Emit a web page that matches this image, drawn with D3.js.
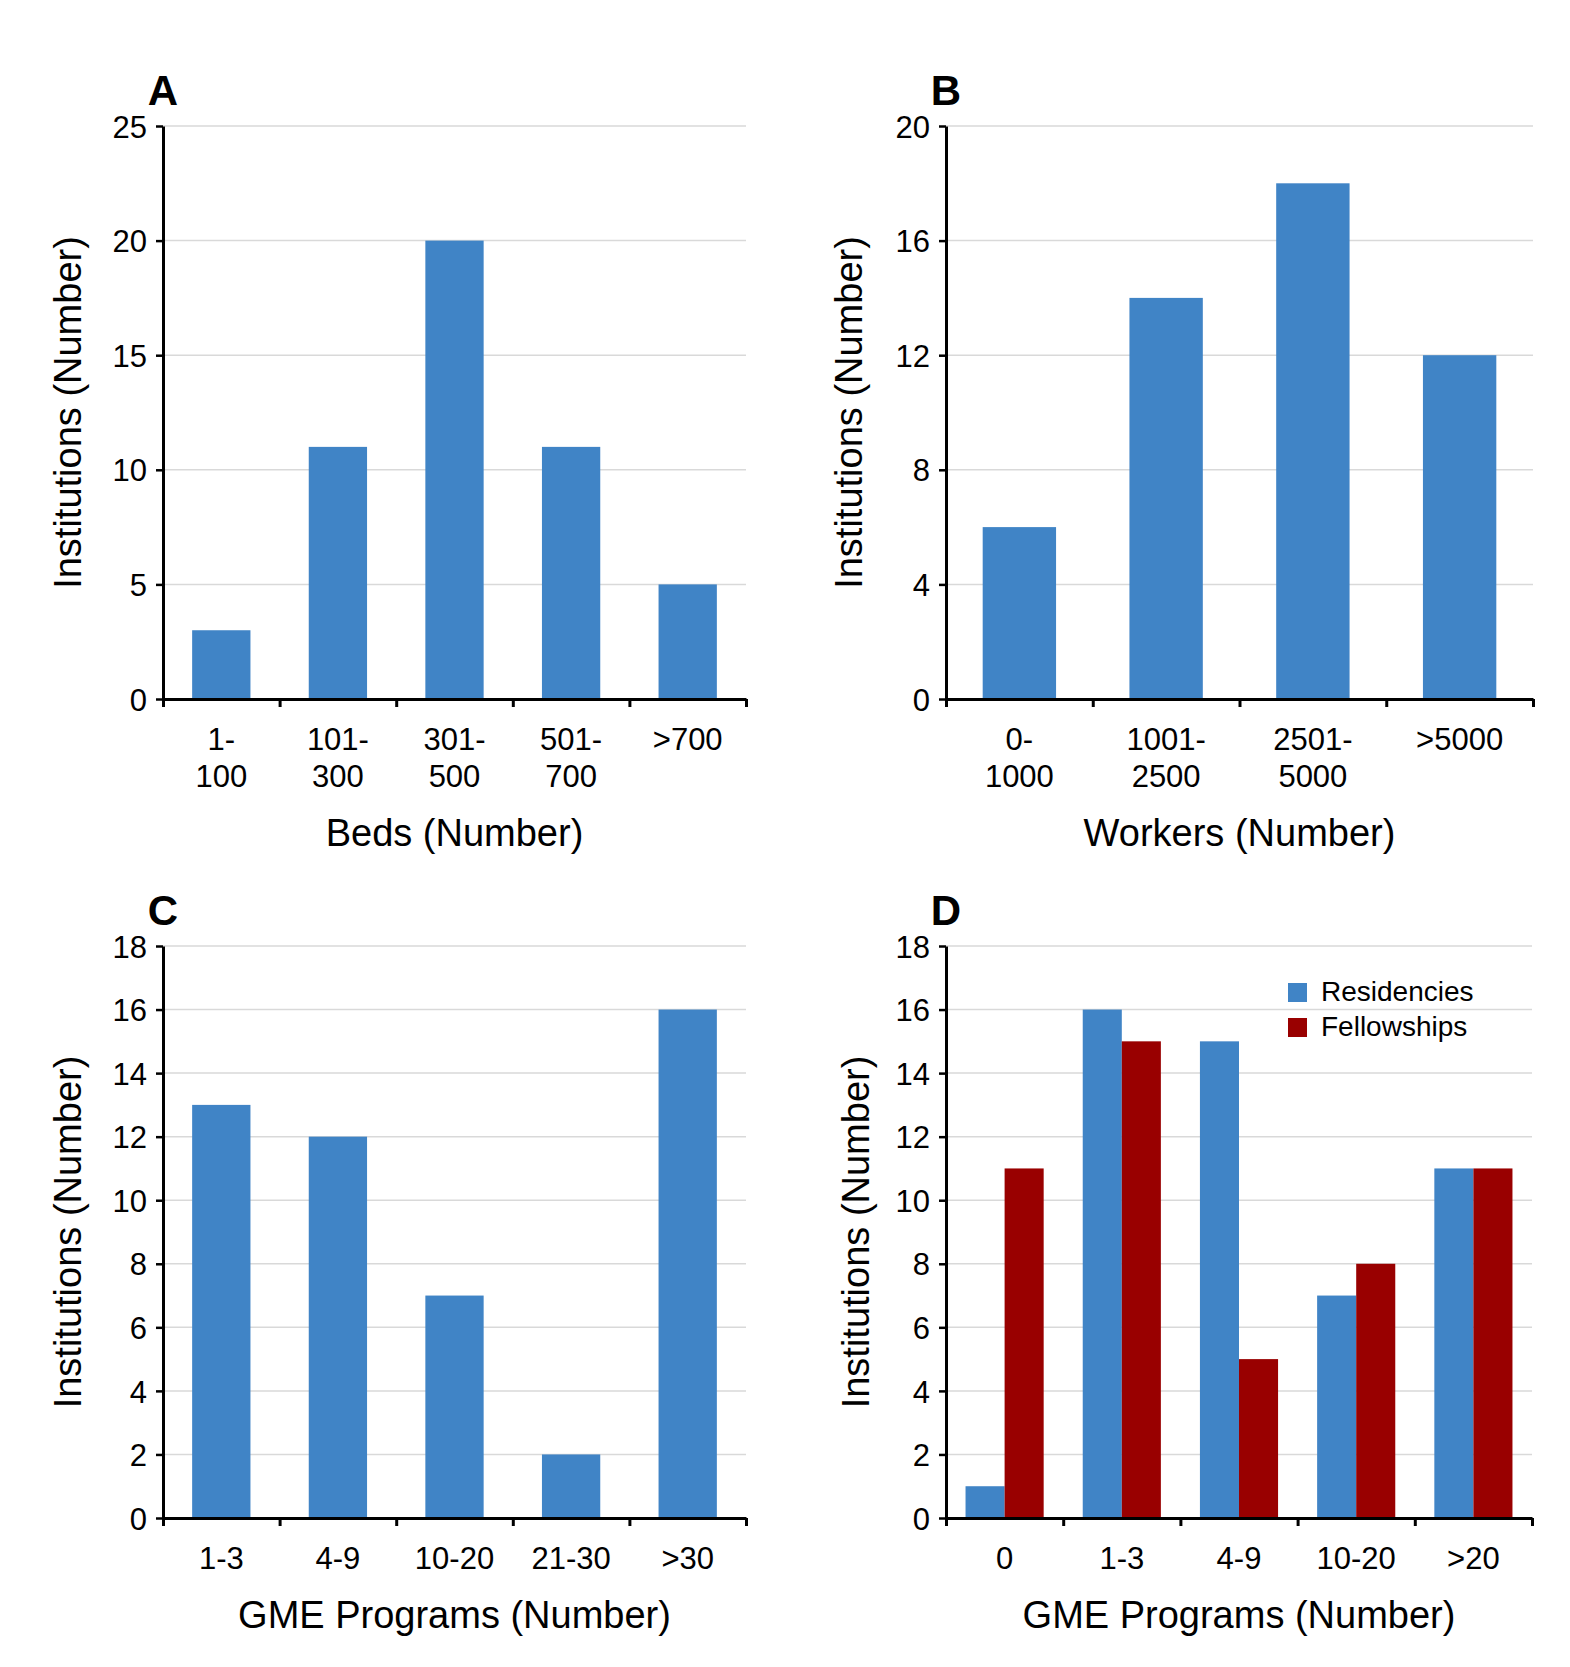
<!DOCTYPE html>
<html>
<head>
<meta charset="utf-8">
<script src="https://cdn.jsdelivr.net/npm/d3@7"></script>
<style>
  body { margin: 0; background: #fff; }
  text { font-family: "Liberation Sans", Arial, sans-serif; fill: #000; }
</style>
</head>
<body>
<svg id="chart"></svg>
<script>
// Panel A: beds
const bedCategories = ["1-\n100", "101-\n300", "301-\n500", "501-\n700", ">700"];
const bedCounts = [3, 11, 20, 11, 5];
const bedTicks = [0, 5, 10, 15, 20, 25];

// Panel B: workers
const workerCategories = ["0-\n1000", "1001-\n2500", "2501-\n5000", ">5000"];
const workerCounts = [6, 14, 18, 12];
const workerTicks = [0, 4, 8, 12, 16, 20];

// Panel C: GME programs
const gmeCategories = ["1-3", "4-9", "10-20", "21-30", ">30"];
const gmeCounts = [13, 12, 7, 2, 16];

// Panel D: residencies vs fellowships
const progCategories = ["0", "1-3", "4-9", "10-20", ">20"];
const residencies = [1, 16, 15, 7, 11];
const fellowships = [11, 15, 5, 8, 11];
const seriesNames = ["Residencies", "Fellowships"];
const gmeTicks = [0, 2, 4, 6, 8, 10, 12, 14, 16, 18];

const blue = "#4084c6";
const red = "#990000";

const svg = d3.select("#chart").attr("width", 1570).attr("height", 1667);

function drawPanel(p) {
  const { left, top, right, bottom } = p;
  const g = svg.append("g");
  const n = p.categories.length;

  const y = d3.scaleLinear().domain([0, d3.max(p.ticks)]).range([bottom, top]);
  const x = d3.scaleBand().domain(p.categories).range([left, right])
    .paddingInner(p.inner).paddingOuter(p.inner / 2);
  const idx = d3.scaleLinear().domain([0, n]).range([left, right]);

  // gridlines
  g.append("g")
    .selectAll("line")
    .data(p.ticks.slice(1))
    .join("line")
    .attr("x1", left).attr("x2", right)
    .attr("y1", (d) => y(d)).attr("y2", (d) => y(d))
    .attr("stroke", "#d9d9d9").attr("stroke-width", 1.5);

  // bars
  const sub = d3.scaleBand().domain(d3.range(p.series.length)).range([0, x.bandwidth()]);
  p.series.forEach((vals, si) => {
    g.append("g")
      .selectAll("rect")
      .data(vals)
      .join("rect")
      .attr("x", (d, i) => x(p.categories[i]) + sub(si))
      .attr("width", sub.bandwidth())
      .attr("y", (d) => y(d))
      .attr("height", (d) => bottom - y(d))
      .attr("fill", p.colors[si]);
  });

  // y axis
  const ya = g.append("g")
    .attr("transform", `translate(${left},0)`)
    .call(d3.axisLeft(y).tickValues(p.ticks).tickSize(7).tickPadding(9).tickSizeOuter(0));
  ya.select(".domain").attr("stroke-width", 3);
  ya.selectAll(".tick line").attr("stroke-width", 2.5);
  ya.selectAll(".tick text")
    .style("font-size", "31px")
    .attr("dy", "0.36em");

  // x axis: ticks between categories
  const xa = g.append("g")
    .attr("transform", `translate(0,${bottom})`)
    .call(d3.axisBottom(idx).tickValues(d3.range(n + 1)).tickSize(8).tickFormat("").tickSizeOuter(0));
  xa.select(".domain").attr("stroke-width", 3);
  xa.selectAll(".tick line").attr("stroke-width", 3);

  // category labels
  const lab = g.append("g")
    .selectAll("text")
    .data(p.categories)
    .join("text")
    .attr("text-anchor", "middle")
    .style("font-size", "31px")
    .attr("x", (d) => x(d) + x.bandwidth() / 2)
    .attr("y", bottom + 51);
  lab.selectAll("tspan")
    .data((d) => d.split("\n"))
    .join("tspan")
    .attr("x", function () { return this.parentNode.getAttribute("x"); })
    .attr("dy", (d, i) => (i === 0 ? 0 : 37))
    .text((d) => d);

  // axis titles
  g.append("text")
    .attr("text-anchor", "middle")
    .style("font-size", "38px")
    .attr("x", (left + right) / 2)
    .attr("y", bottom + p.xTitleOffset)
    .text(p.xTitle);

  g.append("text")
    .attr("text-anchor", "middle")
    .style("font-size", "38px")
    .attr("transform", `translate(${left - p.yTitleOffset},${(top + bottom) / 2}) rotate(-90)`)
    .text("Institutions (Number)");

  // panel letter
  g.append("text")
    .attr("text-anchor", "middle")
    .style("font-size", "42px")
    .style("font-weight", "bold")
    .attr("x", left)
    .attr("y", top - 21)
    .text(p.letter);

  return g;
}

drawPanel({
  left: 163, right: 746, top: 126, bottom: 699,
  categories: bedCategories, series: [bedCounts], colors: [blue],
  ticks: bedTicks, inner: 0.5, letter: "A",
  xTitle: "Beds (Number)", xTitleOffset: 147, yTitleOffset: 82,
});

drawPanel({
  left: 946, right: 1533, top: 126, bottom: 699,
  categories: workerCategories, series: [workerCounts], colors: [blue],
  ticks: workerTicks, inner: 0.5, letter: "B",
  xTitle: "Workers (Number)", xTitleOffset: 147, yTitleOffset: 84,
});

drawPanel({
  left: 163, right: 746, top: 946, bottom: 1518,
  categories: gmeCategories, series: [gmeCounts], colors: [blue],
  ticks: gmeTicks, inner: 0.5, letter: "C",
  xTitle: "GME Programs (Number)", xTitleOffset: 110, yTitleOffset: 82,
});

const pd = drawPanel({
  left: 946, right: 1532, top: 946, bottom: 1518,
  categories: progCategories, series: [residencies, fellowships], colors: [blue, red],
  ticks: gmeTicks, inner: 1 / 3, letter: "D",
  xTitle: "GME Programs (Number)", xTitleOffset: 110, yTitleOffset: 77,
});

// legend for D
const legend = pd.append("g").attr("transform", "translate(1288,983)");
const li = legend.selectAll("g")
  .data(seriesNames)
  .join("g")
  .attr("transform", (d, i) => `translate(0,${i * 35})`);
li.append("rect")
  .attr("width", 19).attr("height", 19)
  .attr("fill", (d, i) => [blue, red][i]);
li.append("text")
  .attr("x", 33).attr("y", 18)
  .style("font-size", "28px")
  .text((d) => d);
</script>
</body>
</html>
